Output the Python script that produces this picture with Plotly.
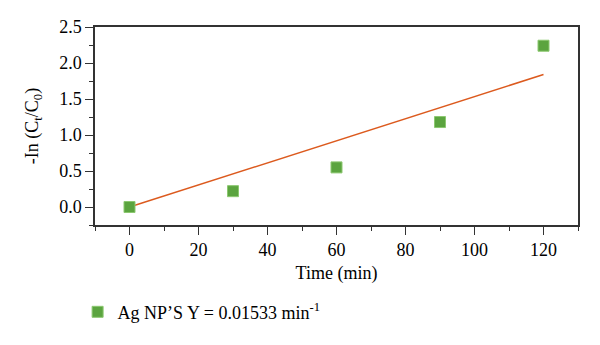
import plotly.graph_objects as go

time_min = [0, 30, 60, 90, 120]
ln_ratio = [0.0, 0.22, 0.55, 1.18, 2.24]
slope = 0.01533
fit_x = [0, 120]
fit_y = [slope * x for x in fit_x]

font = "Liberation Serif"
fs = 18
fig = go.Figure()
fig.add_trace(go.Scatter(x=fit_x, y=fit_y, mode="lines",
                         line=dict(color="#dc5a1e", width=1.5),
                         showlegend=False, hoverinfo="skip"))
fig.add_trace(go.Scatter(x=time_min, y=ln_ratio, mode="markers",
                         marker=dict(symbol="square", size=11, color="#5ba43f",
                                     line=dict(color="#8cc870", width=1)),
                         name="Ag NP’S Y = 0.01533 min<sup>-1</sup>"))

axis_common = dict(showline=True, linecolor="#333333", linewidth=1.5, mirror=True,
                   ticks="outside", ticklen=8, tickwidth=1.2, tickcolor="#333333",
                   showgrid=False, zeroline=False,
                   tickfont=dict(family=font, size=fs, color="black"))

fig.update_xaxes(range=[-10, 130], dtick=20, tick0=0,
                 minor=dict(dtick=10, ticks="outside", ticklen=4, tickcolor="#333333", tickwidth=1.2),
                 title=dict(text="Time (min)", font=dict(family=font, size=fs, color="black"), standoff=7),
                 **axis_common)
fig.update_yaxes(range=[-0.25, 2.5], dtick=0.5, tick0=0, tickformat=".1f",
                 minor=dict(dtick=0.25, ticks="outside", ticklen=4, tickcolor="#333333", tickwidth=1.2),
                 title=dict(text="-In (C<sub>t</sub>/C<sub>0</sub>)", font=dict(family=font, size=fs, color="black"), standoff=16),
                 **axis_common)

fig.update_layout(width=600, height=345, margin=dict(l=95, r=22, t=27, b=120),
                  plot_bgcolor="white", paper_bgcolor="white",
                  font=dict(family=font, size=fs, color="black"),
                  legend=dict(x=-0.036, y=-0.44, xanchor="left", yanchor="middle",
                              orientation="h", itemwidth=30,
                              font=dict(family=font, size=fs, color="black")))

fig.write_html("out.html")
